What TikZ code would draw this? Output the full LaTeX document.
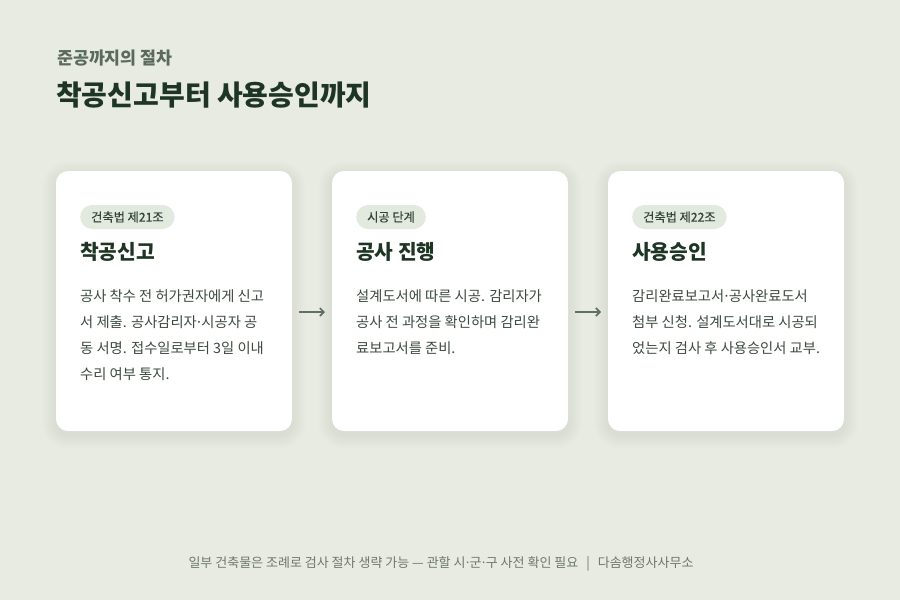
\documentclass[tikz,border=0pt]{standalone}
\usepackage{fontspec}
\setmainfont{Noto Sans CJK KR}
\newfontfamily\medfont{Noto Sans CJK KR}[FakeBold=0.5]
\usetikzlibrary{arrows.meta}
\newcommand\mdot{\kern-0.12em·\kern-0.12em}
\definecolor{bg}{HTML}{E8EBE2}
\definecolor{titlec}{HTML}{1E3524}
\definecolor{subc}{HTML}{5A6A5B}
\definecolor{bodyc}{HTML}{3C4A3F}
\definecolor{pillc}{HTML}{E2EADF}
\definecolor{pilltext}{HTML}{34443A}
\definecolor{footc}{HTML}{6E786C}
\definecolor{arrc}{HTML}{5F6F61}
\definecolor{shadowc}{HTML}{4A5A48}
\tikzset{
  card/.style={fill=white, rounded corners=12pt, minimum width=236pt, minimum height=260pt, inner sep=0pt},
  pill/.style={fill=pillc, rounded corners=12pt, minimum height=24pt, inner xsep=11pt, inner ysep=0pt,
    text=pilltext, font=\fontsize{12.2}{12}\selectfont\medfont, anchor=west},
  ctitle/.style={anchor=base west, text=titlec, inner sep=0pt, font=\fontsize{20.3}{21}\selectfont\bfseries},
  body/.style={anchor=base west, text=bodyc, inner sep=0pt, font=\fontsize{14.3}{15}\selectfont},
  arr/.style={draw=arrc, line width=1.6pt, -{Straight Barb[length=4pt,width=8pt]}},
}
\newcommand\cardshadow[2]{%
  \foreach \i in {1,...,14}{
    \fill[shadowc, opacity=0.0055, rounded corners={12pt+\i pt}]
      ({#1-118-\i},{#2-130-\i+4}) rectangle ({#1+118+\i},{#2+130+\i+4});
  }}
\begin{document}
\begin{tikzpicture}[x=1pt,y=-1pt]
\useasboundingbox[fill=bg] (0,0) rectangle (900,600);
% header
\node[anchor=base west, inner sep=0pt, text=subc, font=\fontsize{17.3}{17}\selectfont\bfseries] (sub) at (57,64.5) {준공까지의 절차};
\node[anchor=base west, inner sep=0pt, text=titlec, font=\fontsize{28}{28}\selectfont\bfseries] (main) at (56,105) {착공신고부터 사용승인까지};
% shadows
\cardshadow{174}{301}
\cardshadow{450}{301}
\cardshadow{726}{301}
% cards
\node[card] (c1) at (174,301) {};
\node[card] (c2) at (450,301) {};
\node[card] (c3) at (726,301) {};
% card 1
\node[pill] (p1) at (80,217) {건축법 제21조};
\node[ctitle] (t1) at (80,259) {착공신고};
\node[body] (b11) at (80,301) {공사 착수 전 허가권자에게 신고};
\node[body] (b12) at (80,327) {서 제출. 공사감리자\mdot 시공자 공};
\node[body] (b13) at (80,353) {동 서명. 접수일로부터 3일 이내};
\node[body] (b14) at (80,379) {수리 여부 통지.};
% card 2
\node[pill] (p2) at (356,217) {시공 단계};
\node[ctitle] (t2) at (356,259) {공사 진행};
\node[body] (b21) at (356,301) {설계도서에 따른 시공. 감리자가};
\node[body] (b22) at (356,327) {공사 전 과정을 확인하며 감리완};
\node[body] (b23) at (356,353) {료보고서를 준비.};
% card 3
\node[pill] (p3) at (632,217) {건축법 제22조};
\node[ctitle] (t3) at (632,259) {사용승인};
\node[body] (b31) at (632,301) {감리완료보고서\mdot 공사완료도서};
\node[body] (b32) at (632,327) {첨부 신청. 설계도서대로 시공되};
\node[body] (b33) at (632,353) {었는지 검사 후 사용승인서 교부.};
% arrows
\coordinate (a1s) at (299,312); \coordinate (a1e) at (325,312);
\coordinate (a2s) at (575,312); \coordinate (a2e) at (601,312);
\draw[arr] (a1s) -- (a1e);
\draw[arr] (a2s) -- (a2e);
% footer
\node[inner sep=0pt, text=footc, font=\fontsize{13}{13}\selectfont] (foot) at (441,564) {일부 건축물은 조례로 검사 절차 생략 가능 — 관할 시\mdot 군\mdot 구 사전 확인 필요 \ \,|\, \ 다솜행정사사무소};
\end{tikzpicture}
\end{document}
